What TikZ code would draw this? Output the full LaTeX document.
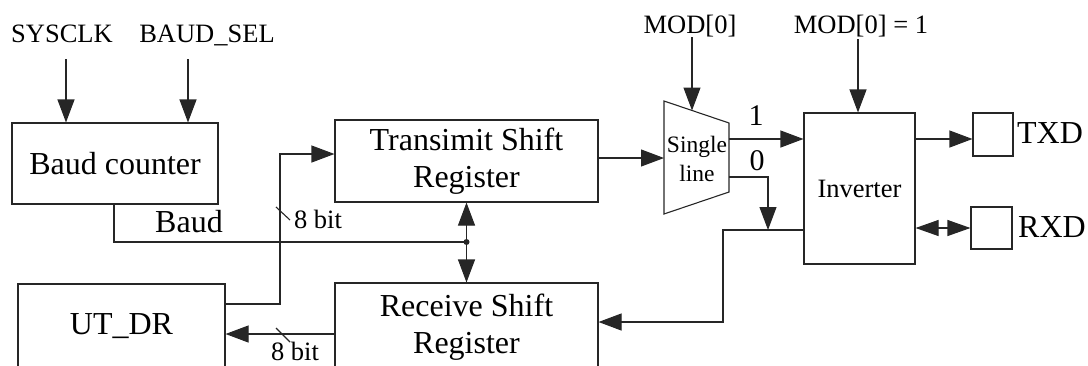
\documentclass[tikz,border=0pt]{standalone}
\usepackage{fontspec}
\setmainfont{Liberation Serif}
\usetikzlibrary{arrows.meta}
\tikzset{
  wire/.style={line width=1.1pt, draw=black!85},
  arr/.style={wire, -{Triangle[length=23pt,width=17pt]}},
  dblarr/.style={wire, {Triangle[length=23pt,width=16pt]}-{Triangle[length=23pt,width=16pt]}},
  blk/.style={draw=black!85, line width=1.1pt, inner sep=0pt, align=center},
  big/.style={font=\fontsize{32}{37}\selectfont},
  mid/.style={font=\fontsize{26.5}{31}\selectfont},
  sml/.style={font=\fontsize{23.5}{29}\selectfont},
  bit/.style={font=\fontsize{30}{36}\selectfont},
  lbl/.style={anchor=base, inner sep=0pt},
}
\begin{document}
\begin{tikzpicture}[x=1pt,y=-1pt]
\clip (0,0) rectangle (1088,365);

% blocks
\node[blk, big, minimum width=206pt, minimum height=81pt] (baud) at (115,163.5) {Baud counter};
\node[blk, big, minimum width=263pt, minimum height=82pt] (tx) at (466.5,161) {Transimit Shift\\Register};
\node[blk, big, minimum width=263pt, minimum height=89pt] (rx) at (466.5,327.5) {Receive Shift\\Register};
\node[blk, big, minimum width=207pt, minimum height=84pt] (utdr) at (121.5,326) {UT\_DR};
\node[blk, mid, minimum width=111pt, minimum height=151pt] (inv) at (859.5,188.5) {Inverter};
\node[blk, minimum width=40pt, minimum height=43pt] (txd) at (993,134.5) {};
\node[blk, minimum width=41pt, minimum height=42pt] (rxd) at (991.5,228) {};

% multiplexer
\coordinate (mtl) at (664,101);
\coordinate (mtr) at (729,123);
\coordinate (mbr) at (729,192);
\coordinate (mbl) at (664,214);
\draw[wire] (mtl) -- (mtr) -- (mbr) -- (mbl) -- cycle;
\node[sml, align=center, inner sep=0pt] (mux) at (697,159) {Single\\line};

% labels
\node[lbl, mid] (sysclk) at (62,42) {SYSCLK};
\node[lbl, mid] (bsel) at (207,42) {BAUD\_SEL};
\node[lbl, mid] (mod) at (690,33) {MOD[0]};
\node[lbl, mid] (modone) at (861,33) {MOD[0] = 1};
\node[lbl, big] (baudlbl) at (189,232) {Baud};
\node[lbl, mid] (bitup) at (318,228) {8 bit};
\node[lbl, mid] (bitdn) at (295,360) {8 bit};
\node[lbl, bit] (one) at (756,125) {1};
\node[lbl, bit] (zero) at (757,170) {0};
\node[lbl, big] (txdlbl) at (1050,143) {TXD};
\node[lbl, big] (rxdlbl) at (1052,237) {RXD};

% clock inputs
\coordinate (clkin) at (66,59);
\coordinate (selin) at (188,59);
\draw[arr] (clkin) -- (clkin |- baud.north);
\draw[arr] (selin) -- (selin |- baud.north);

% baud tick to both shift registers
\coordinate (bout) at (114,242);
\coordinate (dot) at (466.5,242);
\draw[wire] (bout |- baud.south) -- (bout) -- (dot);
\fill[black!85] (dot) circle (3pt);
\draw[arr] (dot) -- (tx.south);
\draw[arr] (dot) -- (rx.north);

% data bus UT_DR -> transmit register
\coordinate (bus1) at (280,304);
\coordinate (bus2) at (280,154);
\draw[arr] (bus1 -| utdr.east) -- (bus1) -- (bus2) -- (bus2 -| tx.west);
\coordinate (tick1) at (283,213.5);
\draw[wire] ([shift={(-7,-6.5)}]tick1) -- ([shift={(7,6.5)}]tick1);

% data bus receive register -> UT_DR
\coordinate (rxo) at (0,334);
\draw[arr] (rx.west |- rxo) -- (utdr.east |- rxo);
\coordinate (tick2) at (283,335);
\draw[wire] ([shift={(-7,-7)}]tick2) -- ([shift={(7,7)}]tick2);

% transmit register -> multiplexer
\coordinate (txo) at (598,158);
\draw[arr] (txo) -- (txo -| mtl);

% mode select
\coordinate (modin) at (692,37);
\coordinate (modtip) at (692,110.5);
\draw[arr] (modin) -- (modtip);
\coordinate (mod1in) at (858,39);
\draw[arr] (mod1in) -- (mod1in |- inv.north);

% multiplexer outputs
\coordinate (m1) at (729,139);
\draw[arr] (m1) -- (m1 -| inv.west);
\coordinate (m0) at (729,177);
\coordinate (m0c) at (768,177);
\coordinate (join) at (768,230);
\draw[arr] (m0) -- (m0c) -- (join);

% inverter -> receive register
\coordinate (ret) at (723,230);
\coordinate (ret2) at (723,322);
\draw[arr] (inv.west |- ret) -- (ret) -- (ret2) -- (ret2 -| rx.east);

% pins
\draw[arr] (m1 -| inv.east) -- (m1 -| txd.west);
\draw[dblarr] (inv.east |- rxd) -- (rxd.west);
\end{tikzpicture}
\end{document}
